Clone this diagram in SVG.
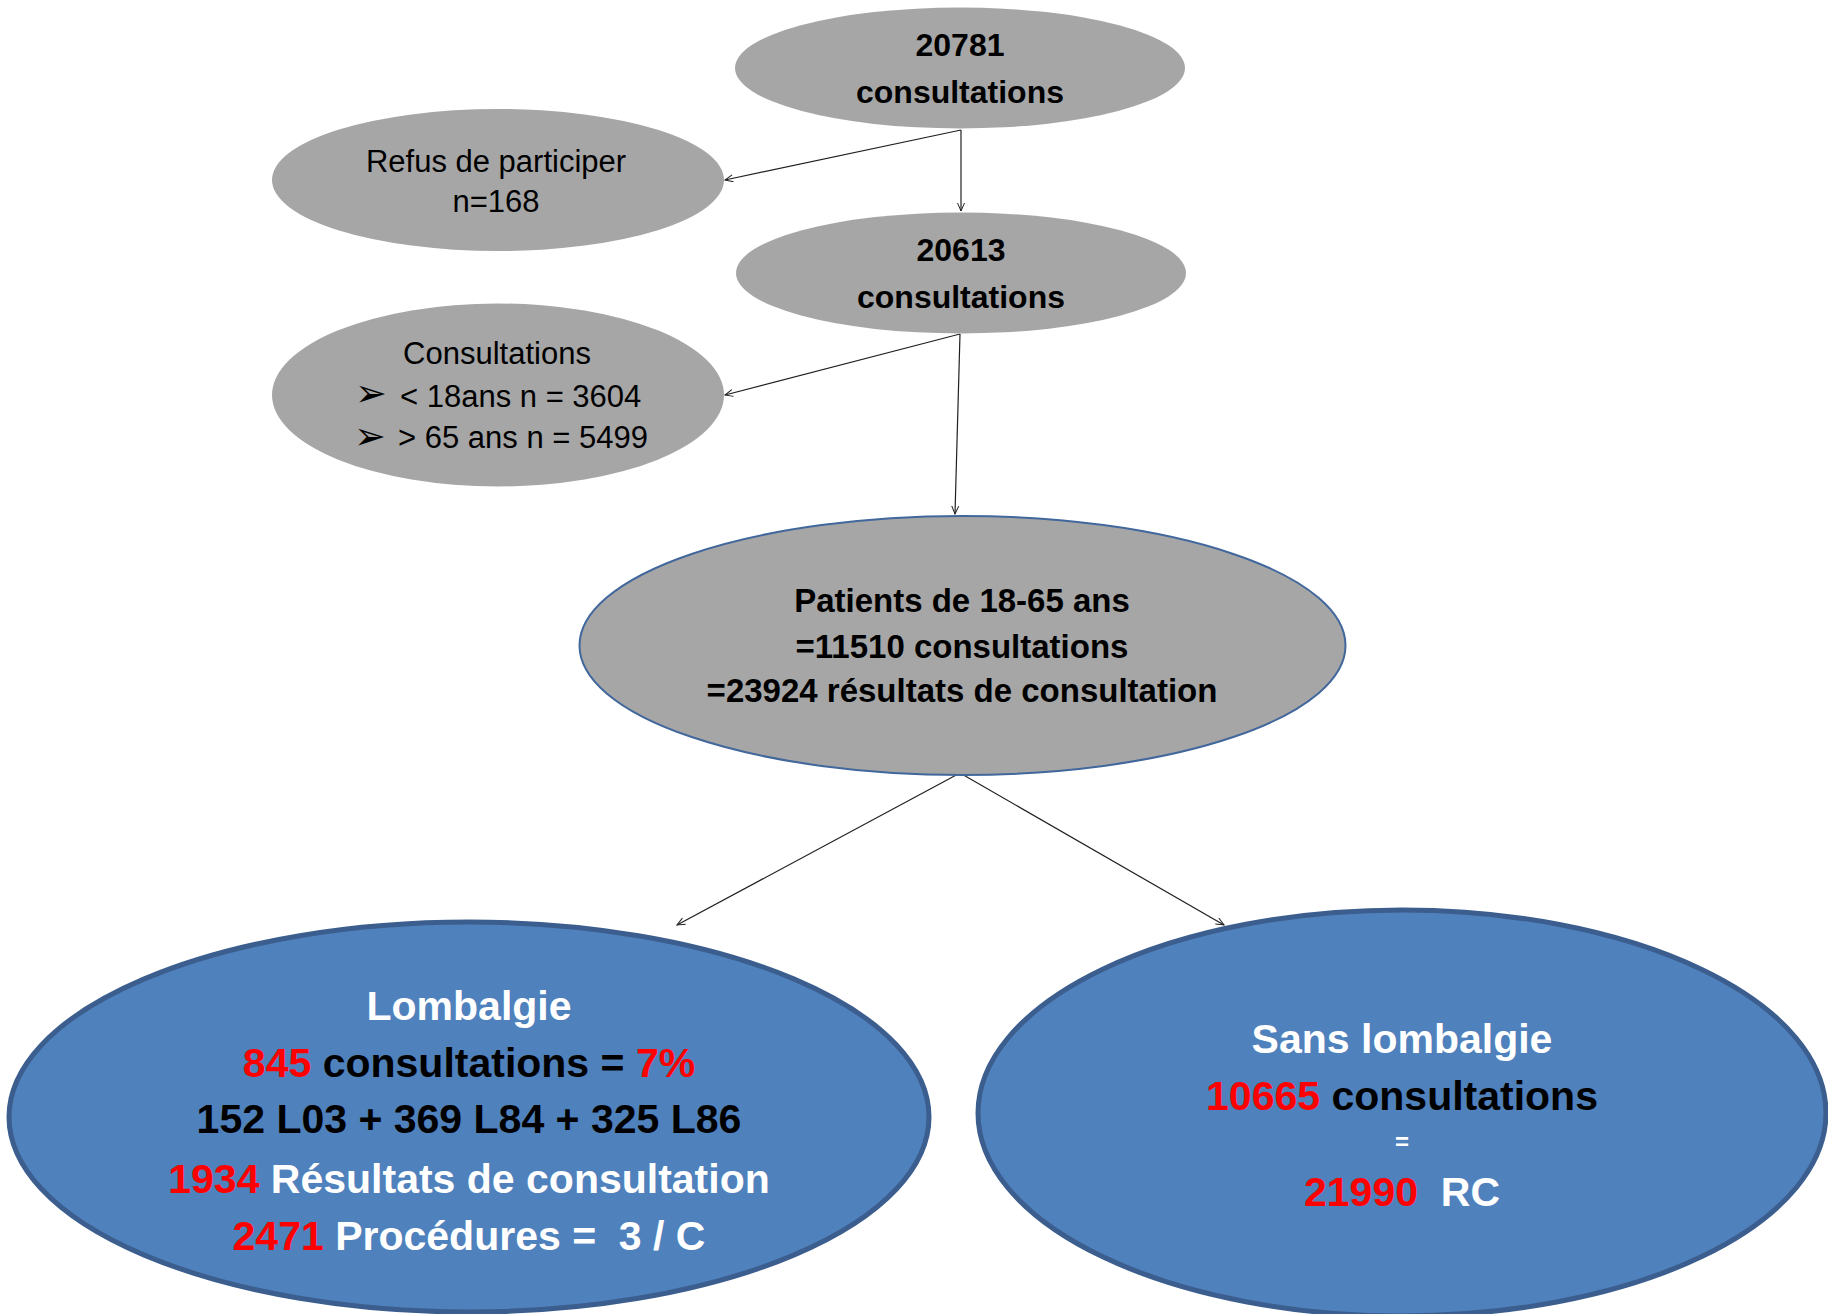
<svg xmlns="http://www.w3.org/2000/svg" width="1828" height="1314" viewBox="0 0 1828 1314">
<style>
text{font-family:"Liberation Sans",Arial,sans-serif;text-anchor:middle;white-space:pre}
.g{fill:#A6A6A6}
.b{fill:#4F81BD;stroke:#3B5E8E;stroke-width:5}
.m{fill:#A6A6A6;stroke:#41679C;stroke-width:2}
.t32{font-size:32px;font-weight:bold;fill:#000}
.t31{font-size:31px;fill:#000}
.t33{font-size:33px;font-weight:bold;fill:#000}
.t41{font-size:41px;font-weight:bold;fill:#fff}
.r{fill:#FF0000}.k{fill:#000}.w{fill:#fff}
.c{fill:none;stroke:#202020;stroke-width:1.2}
.bul{font-family:"DejaVu Sans",sans-serif;font-size:38px;text-anchor:start;fill:#000}
</style>
<defs>
<marker id="ah" markerUnits="userSpaceOnUse" markerWidth="12" markerHeight="12" refX="9" refY="4" orient="auto">
<path d="M1,0.5 L9,4 L1,7.5" fill="none" stroke="#202020" stroke-width="1"/>
</marker>
</defs>
<g id="connectors">
<line class="c" x1="961" y1="130" x2="725" y2="180" marker-end="url(#ah)"/>
<line class="c" x1="961" y1="130" x2="961" y2="211" marker-end="url(#ah)"/>
<line class="c" x1="960" y1="334" x2="725" y2="395" marker-end="url(#ah)"/>
<line class="c" x1="960" y1="334" x2="955" y2="514" marker-end="url(#ah)"/>
<line class="c" x1="960" y1="773" x2="677" y2="925" marker-end="url(#ah)"/>
<line class="c" x1="960" y1="773" x2="1224" y2="925" marker-end="url(#ah)"/>
</g>
<g id="n1">
<ellipse class="g" cx="960" cy="68" rx="225" ry="60.5"/>
<text class="t32" x="960" y="56">20781</text>
<text class="t32" x="960" y="103">consultations</text>
</g>
<g id="n2">
<ellipse class="g" cx="498" cy="180" rx="226" ry="71"/>
<text class="t31" x="496" y="172">Refus de participer</text>
<text class="t31" x="496" y="212">n=168</text>
</g>
<g id="n3">
<ellipse class="g" cx="961" cy="273" rx="225" ry="60.5"/>
<text class="t32" x="961" y="261">20613</text>
<text class="t32" x="961" y="308">consultations</text>
</g>
<g id="n4">
<ellipse class="g" cx="498" cy="395" rx="226" ry="91.5"/>
<text class="t31" x="497" y="364">Consultations</text>
<text class="bul" x="355" y="406">➢</text>
<text class="t31" style="text-anchor:start" x="400" y="407">&lt; 18ans n = 3604</text>
<text class="bul" x="354" y="449">➢</text>
<text class="t31" style="text-anchor:start" x="398" y="448">&gt; 65 ans n = 5499</text>
</g>
<g id="n5">
<ellipse class="m" cx="962.5" cy="645.5" rx="383" ry="129.5"/>
<text class="t33" x="962" y="612">Patients de 18-65 ans</text>
<text class="t33" x="962" y="658">=11510 consultations</text>
<text class="t33" x="962" y="702">=23924 résultats de consultation</text>
</g>
<g id="n6">
<ellipse class="b" cx="469" cy="1117" rx="460" ry="195"/>
<text class="t41" x="469" y="1020">Lombalgie</text>
<text class="t41" x="469" y="1077"><tspan class="r">845</tspan><tspan class="k"> consultations = </tspan><tspan class="r">7%</tspan></text>
<text class="t41" x="469" y="1133"><tspan class="k">152 L03 + 369 L84 + 325 L86</tspan></text>
<text class="t41" x="469" y="1193"><tspan class="r">1934</tspan> Résultats de consultation</text>
<text class="t41" x="469" y="1250"><tspan class="r">2471</tspan> Procédures =  3 / C</text>
</g>
<g id="n7">
<ellipse class="b" cx="1402" cy="1113" rx="424" ry="203"/>
<text class="t41" x="1402" y="1053">Sans lombalgie</text>
<text class="t41" x="1402" y="1110"><tspan class="r">10665</tspan><tspan class="k"> consultations</tspan></text>
<text class="t41" style="font-size:24px" x="1402" y="1150">=</text>
<text class="t41" x="1402" y="1206"><tspan class="r">21990</tspan>  RC</text>
</g>
</svg>
